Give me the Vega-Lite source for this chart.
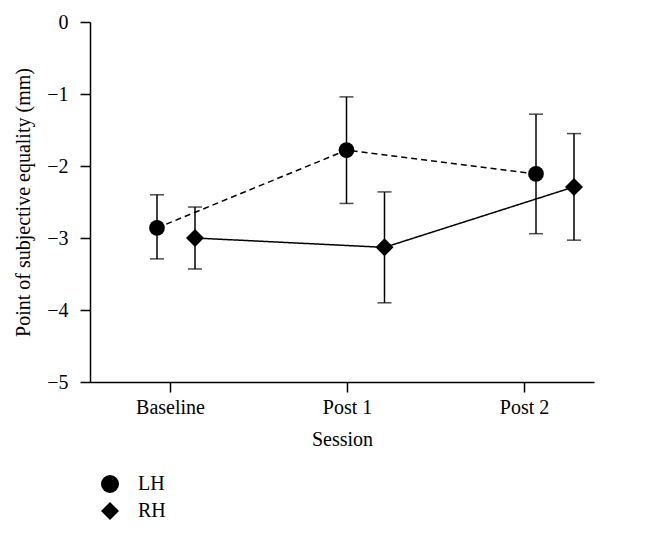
{
  "$schema": "https://vega.github.io/schema/vega-lite/v6.json",
  "width": 504,
  "height": 360,
  "autosize": {"type": "none"},
  "padding": {"left": 90, "top": 22, "right": 51, "bottom": 151},
  "background": "white",
  "config": {
    "font": "Liberation Serif",
    "view": {"stroke": null},
    "axis": {
      "domainColor": "black", "domainWidth": 1.5,
      "tickColor": "black", "tickWidth": 1.5, "tickSize": 10,
      "labelColor": "black", "labelFont": "Liberation Serif", "labelFontSize": 20,
      "titleFont": "Liberation Serif", "titleFontSize": 20, "titleFontWeight": "normal", "titleColor": "black",
      "grid": false
    },
    "legend": {"labelFont": "Liberation Serif", "labelFontSize": 20, "labelColor": "black"}
  },
  "data": {
    "values": [
      {"session": "Baseline", "idx": 0, "hand": "LH", "mean": -2.86, "lower": -3.29, "upper": -2.40},
      {"session": "Baseline", "idx": 0, "hand": "RH", "mean": -3.00, "lower": -3.43, "upper": -2.57},
      {"session": "Post 1", "idx": 1, "hand": "LH", "mean": -1.78, "lower": -2.52, "upper": -1.04},
      {"session": "Post 1", "idx": 1, "hand": "RH", "mean": -3.13, "lower": -3.90, "upper": -2.36},
      {"session": "Post 2", "idx": 2, "hand": "LH", "mean": -2.11, "lower": -2.94, "upper": -1.28},
      {"session": "Post 2", "idx": 2, "hand": "RH", "mean": -2.29, "lower": -3.03, "upper": -1.55}
    ]
  },
  "resolve": {"scale": {"x": "independent"}},
  "layer": [
    {
      "mark": {"type": "point", "opacity": 0},
      "encoding": {
        "x": {
          "field": "idx", "type": "quantitative",
          "scale": {"domain": [-0.452, 2.395], "nice": false, "zero": false},
          "axis": {"values": [0, 1, 2], "labelExpr": "['Baseline','Post 1','Post 2'][datum.value]", "title": "Session", "labelPadding": 5, "titlePadding": 12}
        },
        "y": {
          "field": "mean", "type": "quantitative",
          "scale": {"domain": [-5, 0], "nice": false, "zero": false},
          "axis": {"values": [-5, -4, -3, -2, -1, 0], "format": "d", "title": "Point of subjective equality (mm)", "labelPadding": 12, "titlePadding": 13}
        }
      }
    },
    {
      "encoding": {
        "x": {"field": "session", "type": "nominal", "sort": ["Baseline", "Post 1", "Post 2"], "scale": {"type": "point", "range": [86, 465], "padding": 0}, "axis": null},
        "xOffset": {"field": "hand", "type": "nominal", "scale": {"domain": ["LH", "RH"], "range": [-38, 38], "paddingInner": 0, "paddingOuter": 0}},
        "y": {"field": "mean", "type": "quantitative", "title": "Point of subjective equality (mm)"}
      },
      "layer": [
        {
          "mark": {"type": "line", "color": "black", "strokeWidth": 1.5},
          "encoding": {
            "detail": {"field": "hand", "type": "nominal"},
            "strokeDash": {"condition": {"test": "datum.hand === 'LH'", "value": [6, 4]}, "value": [1, 0]}
          }
        },
        {
          "mark": {"type": "rule", "color": "black", "strokeWidth": 1.5},
          "encoding": {
            "y": {"field": "lower", "type": "quantitative", "title": "Point of subjective equality (mm)"},
            "y2": {"field": "upper"}
          }
        },
        {
          "mark": {"type": "tick", "color": "black", "orient": "horizontal", "size": 14, "thickness": 1.5},
          "encoding": {"y": {"field": "lower", "type": "quantitative", "title": "Point of subjective equality (mm)"}}
        },
        {
          "mark": {"type": "tick", "color": "black", "orient": "horizontal", "size": 14, "thickness": 1.5},
          "encoding": {"y": {"field": "upper", "type": "quantitative", "title": "Point of subjective equality (mm)"}}
        },
        {
          "mark": {"type": "point", "filled": true, "color": "black", "opacity": 1},
          "encoding": {
            "shape": {
              "field": "hand", "type": "nominal",
              "scale": {"domain": ["LH", "RH"], "range": ["circle", "diamond"]},
              "legend": {
                "title": null, "orient": "none", "legendX": 10, "legendY": 452,
                "symbolSize": 324, "rowPadding": 3, "labelOffset": 18,
                "encode": {
                  "symbols": {
                    "shape": {"value": {"expr": "datum.value === 'LH' ? 'M-2.05,0L-1,0M-0.89,0A0.89,0.89,0,1,1,0.89,0A0.89,0.89,0,1,1,-0.89,0ZM1,0L2.05,0' : 'M-2.05,0L2.05,0M-1,0L0,-1L1,0L0,1Z'"}},
                    "size": {"value": 324},
                    "fill": {"value": "black"},
                    "fillOpacity": {"value": 1},
                    "stroke": {"value": "black"},
                    "strokeWidth": {"value": 1.5},
                    "opacity": {"value": 1}
                  }
                }
              }
            },
            "size": {"condition": {"test": "datum.hand === 'RH'", "value": 324}, "value": 246}
          }
        }
      ]
    }
  ]
}
